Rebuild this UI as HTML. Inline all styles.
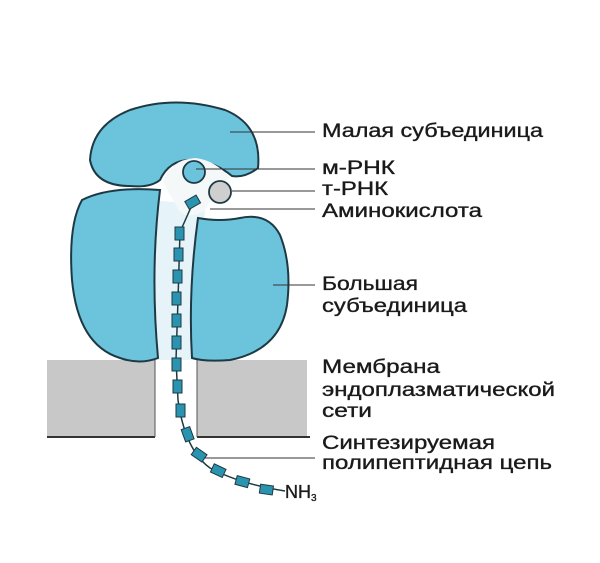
<!DOCTYPE html>
<html><head><meta charset="utf-8"><style>
html,body{margin:0;padding:0;background:#fff;width:600px;height:563px;overflow:hidden}
svg{display:block}
text{font-family:"Liberation Sans",sans-serif;font-size:19px;fill:#1a1a1a;stroke:#1a1a1a;stroke-width:0.35}
</style></head><body>
<svg width="600" height="563" viewBox="0 0 600 563">
<rect x="47" y="360" width="108" height="77" fill="#c8c8c8"/>
<rect x="197" y="360" width="110" height="77" fill="#c8c8c8"/>
<line x1="47" y1="437" x2="155" y2="437" stroke="#333" stroke-width="2"/>
<line x1="197" y1="437" x2="310" y2="437" stroke="#333" stroke-width="2"/>
<line x1="155" y1="360" x2="155" y2="437" stroke="#555" stroke-width="1"/>
<line x1="197" y1="360" x2="197" y2="437" stroke="#555" stroke-width="1"/>
<path d="M150 200 L205 205 L200 360 L155 360 Z" fill="#e6f3f8"/>
<path d="M82 200 Q110 186 160 190 Q150 270 158 358 Q140 365 120 358 Q78 345 72 280 Q68 225 82 200 Z" fill="#6cc3dc" stroke="#1d3a44" stroke-width="2"/>
<path d="M198 218 Q220 222 240 218 Q268 212 280 235 Q292 265 287 305 Q280 350 230 360 Q205 362 192 358 Q188 290 198 218 Z" fill="#6cc3dc" stroke="#1d3a44" stroke-width="2"/>
<path d="M90 160 Q92 125 130 110 Q175 95 225 110 Q262 125 258 168 Q245 178 232 176 Q215 162 195 160 Q170 158 160 180 Q150 188 130 186 Q95 186 90 160 Z" fill="#6cc3dc" stroke="#1d3a44" stroke-width="2"/>
<path d="M163 182 Q170 160 195 158 Q215 160 230 178 Q212 195 205 210 Q190 220 180 212 Q170 195 163 182 Z" fill="#f4f8f9"/>
<circle cx="194" cy="172" r="11" fill="#6cc3dc" stroke="#1d3a44" stroke-width="1.8"/>
<circle cx="220" cy="192" r="11" fill="#cfcfcf" stroke="#1d3a44" stroke-width="1.8"/>
<path d="M192 205 L180 232 L178 300 L176 360 L178 400 Q185 450 210 468 Q240 484 285 491" fill="none" stroke="#1d3a44" stroke-width="1.5"/>
<g fill="#2a94b0" stroke="#1d3a44" stroke-width="1">
<rect x="186" y="198" width="13" height="9" transform="rotate(-30 192 202)"/>
<rect x="175" y="227" width="9" height="13"/>
<rect x="174" y="248" width="9" height="13"/>
<rect x="173" y="270" width="9" height="13"/>
<rect x="172" y="292" width="9" height="13"/>
<rect x="172" y="314" width="9" height="13"/>
<rect x="172" y="336" width="9" height="13"/>
<rect x="172" y="358" width="9" height="13"/>
<rect x="173" y="380" width="9" height="13"/>
<rect x="176" y="404" width="9" height="13"/>
<rect x="183" y="428" width="9" height="13" transform="rotate(-20 187 434)"/>
<rect x="193" y="450" width="13" height="9" transform="rotate(35 199 454)"/>
<rect x="212" y="466" width="13" height="9" transform="rotate(25 218 470)"/>
<rect x="236" y="477" width="13" height="9" transform="rotate(15 242 481)"/>
<rect x="260" y="485" width="13" height="9" transform="rotate(8 266 489)"/>
</g>
<text x="285" y="498" style="font-size:18px">NH<tspan style="font-size:10px" dy="3">3</tspan></text>
<g stroke="#333" stroke-width="1">
<line x1="230" y1="132" x2="315" y2="132"/>
<line x1="196" y1="169" x2="315" y2="169"/>
<line x1="232" y1="191" x2="315" y2="191"/>
<line x1="210" y1="209" x2="315" y2="209"/>
<line x1="273" y1="285" x2="315" y2="285"/>
<line x1="205" y1="458" x2="315" y2="458"/>
</g>
<text x="322" y="137" textLength="221" lengthAdjust="spacingAndGlyphs">Малая субъединица</text>
<text x="322" y="174" textLength="73" lengthAdjust="spacingAndGlyphs">м-РНК</text>
<text x="322" y="195" textLength="66" lengthAdjust="spacingAndGlyphs">т-РНК</text>
<text x="322" y="217" textLength="160" lengthAdjust="spacingAndGlyphs">Аминокислота</text>
<text x="322" y="290" textLength="96" lengthAdjust="spacingAndGlyphs">Большая</text>
<text x="322" y="312" textLength="145" lengthAdjust="spacingAndGlyphs">субъединица</text>
<text x="322" y="373" textLength="118" lengthAdjust="spacingAndGlyphs">Мембрана</text>
<text x="322" y="396" textLength="233" lengthAdjust="spacingAndGlyphs">эндоплазматической</text>
<text x="322" y="417" textLength="50" lengthAdjust="spacingAndGlyphs">сети</text>
<text x="322" y="449" textLength="173" lengthAdjust="spacingAndGlyphs">Синтезируемая</text>
<text x="322" y="469" textLength="230" lengthAdjust="spacingAndGlyphs">полипептидная цепь</text>
</svg>
</body></html>
